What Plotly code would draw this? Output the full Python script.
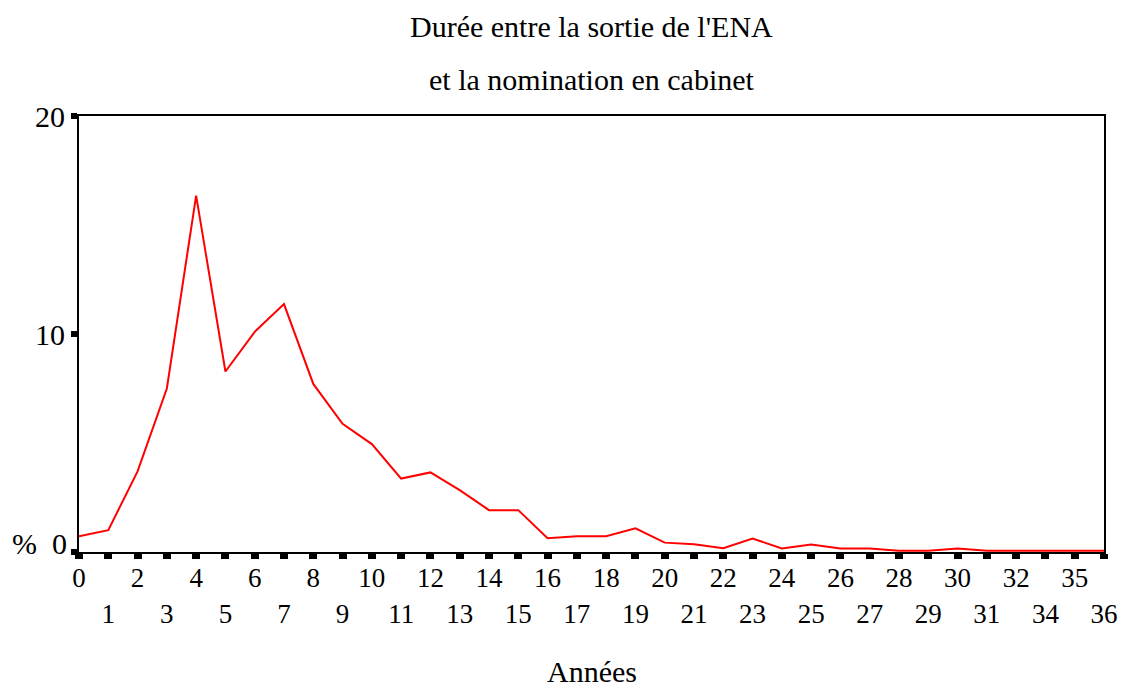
import plotly.graph_objects as go

# Data
categories = [str(i) for i in range(33)] + ["34", "35", "36"]
percent = [0.72, 1.0, 3.7, 7.5, 16.35, 8.28, 10.1, 11.37, 7.71, 5.88,
           4.95, 3.37, 3.65, 2.84, 1.92, 1.92, 0.63, 0.72, 0.72, 1.09,
           0.43, 0.35, 0.17, 0.62, 0.16, 0.34, 0.16, 0.16, 0.06, 0.06,
           0.16, 0.06, 0.06, 0.06, 0.06, 0.06]
y_ticks = [0, 10, 20]
y_ticktext = ["", "10", "20"]
title_lines = ["Durée entre la sortie de l'ENA", "et la nomination en cabinet"]
x_title = "Années"

positions = list(range(len(categories)))
# alternate labels on two rows
x_ticktext = [c if i % 2 == 0 else "<br>" + c for i, c in enumerate(categories)]

FONT = "Liberation Serif, Times New Roman, serif"

fig = go.Figure()
fig.add_trace(go.Scatter(
    x=positions, y=percent, mode="lines",
    line=dict(color="#ff0000", width=2),
    hoverinfo="skip", showlegend=False,
))

fig.update_layout(
    width=1124, height=693,
    margin=dict(l=79, r=20, t=116, b=141),
    paper_bgcolor="white", plot_bgcolor="white",
    font=dict(family=FONT, color="black"),
    showlegend=False,
    xaxis=dict(
        range=[0, len(categories) - 1],
        automargin=False,
        tickmode="array", tickvals=positions, ticktext=x_ticktext,
        tickangle=0,
        tickfont=dict(family=FONT, size=27, color="black"),
        ticks="outside", ticklen=5, tickwidth=8, tickcolor="black",
        ticklabelstandoff=-4,
        showline=True, linecolor="black", linewidth=2, mirror=True,
        showgrid=False, zeroline=False,
    ),
    yaxis=dict(
        range=[0, 20],
        automargin=False,
        tickmode="array", tickvals=y_ticks, ticktext=y_ticktext,
        tickfont=dict(family=FONT, size=30, color="black"),
        ticks="outside", ticklen=6, tickwidth=6, tickcolor="black",
        showline=True, linecolor="black", linewidth=2, mirror=True,
        showgrid=False, zeroline=False,
    ),
    annotations=[
        dict(text=title_lines[0], xref="paper", yref="paper", x=0.5, y=1.2064,
             xanchor="center", yanchor="middle", showarrow=False,
             font=dict(family=FONT, size=30, color="black")),
        dict(text=title_lines[1], xref="paper", yref="paper", x=0.5, y=1.0826,
             xanchor="center", yanchor="middle", showarrow=False,
             font=dict(family=FONT, size=30, color="black")),
        dict(text=x_title, xref="paper", yref="paper", x=0.5, y=-0.2752,
             xanchor="center", yanchor="middle", showarrow=False,
             font=dict(family=FONT, size=30, color="black")),
        dict(text="%\u00a0\u00a00", xref="paper", yref="y", x=0, y=0,
             xanchor="right", yanchor="middle", xshift=-10, yshift=9,
             showarrow=False, font=dict(family=FONT, size=30, color="black")),
    ],
)

fig.write_html(
    "out.html",
    config={"displayModeBar": False},
    post_script="document.body.style.margin='0';document.body.style.overflow='hidden';",
)
